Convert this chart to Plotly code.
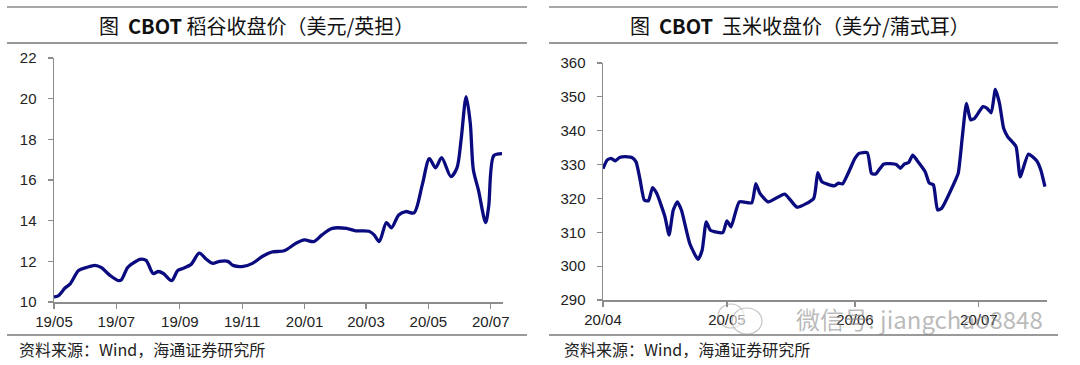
import plotly.graph_objects as go

# ---------------- data ----------------
rice_dates = [
    "2019-05-01", "2019-05-05", "2019-05-12", "2019-05-17", "2019-05-25", "2019-06-02",
    "2019-06-10", "2019-06-16", "2019-06-25", "2019-07-03", "2019-07-06", "2019-07-12",
    "2019-07-17", "2019-07-24", "2019-07-30", "2019-08-06", "2019-08-11", "2019-08-16",
    "2019-08-24", "2019-08-30", "2019-09-04", "2019-09-12", "2019-09-20", "2019-09-27",
    "2019-10-03", "2019-10-10", "2019-10-18", "2019-10-23", "2019-11-02", "2019-11-11",
    "2019-11-21", "2019-11-30", "2019-12-12", "2019-12-24", "2020-01-01", "2020-01-10",
    "2020-01-18", "2020-01-28", "2020-02-11", "2020-02-20", "2020-03-04", "2020-03-09",
    "2020-03-14", "2020-03-21", "2020-03-26", "2020-04-02", "2020-04-09", "2020-04-17",
    "2020-04-25", "2020-05-02", "2020-05-08", "2020-05-14", "2020-05-23", "2020-05-29",
    "2020-06-02", "2020-06-07", "2020-06-11", "2020-06-14", "2020-06-19", "2020-06-26",
    "2020-06-29", "2020-07-04", "2020-07-12",
]
rice_values = [
    10.25, 10.3, 10.7, 10.9, 11.55, 11.7,
    11.8, 11.7, 11.3, 11.05, 11.1, 11.7,
    11.9, 12.1, 12.05, 11.4, 11.5, 11.4,
    11.05, 11.55, 11.65, 11.85, 12.4, 12.1,
    11.9, 12.0, 12.0, 11.8, 11.75, 11.9,
    12.25, 12.46, 12.52, 12.9, 13.05, 12.97,
    13.3, 13.62, 13.62, 13.5, 13.48, 13.3,
    12.97, 13.9, 13.65, 14.28, 14.45, 14.38,
    15.75, 17.05, 16.6, 17.1, 16.17, 16.6,
    17.97, 20.1, 18.8, 16.5, 15.5, 13.9,
    14.7, 17.2, 17.3,
]

corn_dates = [
    "2020-04-01", "2020-04-02", "2020-04-03", "2020-04-04", "2020-04-05", "2020-04-07",
    "2020-04-08", "2020-04-09", "2020-04-10", "2020-04-11", "2020-04-12", "2020-04-13",
    "2020-04-14", "2020-04-16", "2020-04-17", "2020-04-18", "2020-04-19", "2020-04-20",
    "2020-04-22", "2020-04-24", "2020-04-25", "2020-04-26", "2020-04-27", "2020-04-30",
    "2020-05-01", "2020-05-02", "2020-05-04", "2020-05-07", "2020-05-08", "2020-05-09",
    "2020-05-11", "2020-05-15", "2020-05-18", "2020-05-22", "2020-05-23", "2020-05-24",
    "2020-05-27", "2020-05-28", "2020-05-29", "2020-06-01", "2020-06-02", "2020-06-04",
    "2020-06-05", "2020-06-06", "2020-06-08", "2020-06-11", "2020-06-12", "2020-06-13",
    "2020-06-14", "2020-06-15", "2020-06-16", "2020-06-18", "2020-06-19", "2020-06-20",
    "2020-06-21", "2020-06-22", "2020-06-25", "2020-06-26", "2020-06-27", "2020-06-28",
    "2020-06-29", "2020-06-30", "2020-07-02", "2020-07-03", "2020-07-04", "2020-07-05",
    "2020-07-06", "2020-07-07", "2020-07-08", "2020-07-10", "2020-07-11", "2020-07-13",
    "2020-07-15", "2020-07-16", "2020-07-17",
]
corn_values = [
    328.8, 331.3, 331.8, 331.1, 332.1, 332.3,
    332.1, 330.8, 325.4, 319.5, 319.3, 323.2,
    321.5, 314.6, 309.2, 316.5, 319.0, 316.5,
    306.7, 302.0, 304.7, 313.1, 310.6, 309.9,
    313.4, 311.6, 319.0, 318.7, 324.4, 321.5,
    319.0, 321.3, 317.4, 320.0, 327.6, 324.9,
    323.7, 324.5, 324.3, 331.8, 333.3, 333.5,
    327.4, 327.2, 330.2, 330.0, 328.9, 330.2,
    330.6, 332.8, 331.3, 327.9, 324.5, 324.0,
    316.6, 317.1, 324.5, 327.4, 338.2, 348.1,
    343.2, 343.7, 347.1, 346.6, 345.3, 352.2,
    348.1, 340.7, 338.2, 335.3, 326.4, 333.1,
    331.1, 328.4, 323.5,
]

rice_ticks = ["2019-05-01", "2019-07-01", "2019-09-01", "2019-11-01",
              "2020-01-01", "2020-03-01", "2020-05-01", "2020-07-01"]
rice_ticktext = ["19/05", "19/07", "19/09", "19/11", "20/01", "20/03", "20/05", "20/07"]
corn_ticks = ["2020-04-01", "2020-05-01", "2020-06-01", "2020-07-01"]
corn_ticktext = ["20/04", "20/05", "20/06", "20/07"]

title_left = "图  <b>CBOT</b> 稻谷收盘价（美元/英担）"
title_right = "图  <b>CBOT</b>  玉米收盘价（美分/蒲式耳）"
source_text = "资料来源：Wind，海通证券研究所"
watermark = "微信号: jiangchao8848"

# ---------------- figure ----------------
W, H = 1080, 365
LINE = "#0B0B80"
AXIS = "#8C8C8C"
FONT = "Liberation Sans, Arial, sans-serif"
CJK = "Noto Sans CJK SC, sans-serif"

def px(x):
    return x / W

def py(y):
    return 1 - y / H

fig = go.Figure()
fig.add_trace(go.Scatter(x=rice_dates, y=rice_values, mode="lines",
                         line=dict(color=LINE, width=3.3, shape="spline", smoothing=0.8),
                         xaxis="x", yaxis="y", showlegend=False, hoverinfo="skip"))
fig.add_trace(go.Scatter(x=corn_dates, y=corn_values, mode="lines",
                         line=dict(color=LINE, width=3.3, shape="spline", smoothing=0.5),
                         xaxis="x2", yaxis="y2", showlegend=False, hoverinfo="skip"))

axis_common = dict(showgrid=False, zeroline=False, showline=True, linecolor=AXIS,
                   linewidth=1.5, ticks="outside", tickcolor=AXIS, ticklen=5,
                   tickwidth=1.2, automargin=False,
                   tickfont=dict(family=FONT, size=15, color="#222"))

fig.update_layout(
    template="none",
    width=W, height=H, margin=dict(l=0, r=0, t=0, b=0, pad=0),
    paper_bgcolor="white", plot_bgcolor="white",
    xaxis=dict(domain=[px(54), px(503)], anchor="y", type="date",
               range=["2019-05-01", "2020-07-13"],
               tickvals=rice_ticks, ticktext=rice_ticktext, **axis_common),
    yaxis=dict(domain=[py(302), py(58)], anchor="x", range=[10, 22],
               tickvals=[10, 12, 14, 16, 18, 20, 22], ticklabelstandoff=8, **axis_common),
    xaxis2=dict(domain=[px(603), px(1047)], anchor="y2", type="date",
                range=["2020-04-01", "2020-07-17 12:00"],
                tickvals=corn_ticks, ticktext=corn_ticktext, **axis_common),
    yaxis2=dict(domain=[py(300), py(63)], anchor="x2", range=[290, 360],
                tickvals=[290, 300, 310, 320, 330, 340, 350, 360], ticklabelstandoff=8,
                **axis_common),
)

shapes = []
# title box lines and source lines
for (x0, x1) in [(7, 527), (549, 1058)]:
    shapes.append(dict(type="line", xref="paper", yref="paper", x0=px(x0), x1=px(x1),
                       y0=py(7), y1=py(7), line=dict(color="#8a8a8a", width=1.5)))
    shapes.append(dict(type="line", xref="paper", yref="paper", x0=px(x0), x1=px(x1),
                       y0=py(43), y1=py(43), line=dict(color="#333333", width=1.2)))
    shapes.append(dict(type="line", xref="paper", yref="paper", x0=px(x0), x1=px(x1),
                       y0=py(335), y1=py(335), line=dict(color="#9a9a9a", width=2)))
# watermark icon (two speech bubbles)
shapes.append(dict(type="circle", xref="paper", yref="paper", x0=px(718), x1=px(744),
                   y0=py(328), y1=py(304), line=dict(color="rgba(150,150,150,0.55)", width=1.2)))
shapes.append(dict(type="circle", xref="paper", yref="paper", x0=px(732), x1=px(762),
                   y0=py(334), y1=py(308), line=dict(color="rgba(150,150,150,0.55)", width=1.2),
                   fillcolor="rgba(255,255,255,0.6)"))
fig.update_layout(shapes=shapes)

annotations = [
    dict(text=title_left, x=px(256), y=py(25), xref="paper", yref="paper",
         showarrow=False, font=dict(family=CJK, size=20, color="#111"),
         xanchor="center", yanchor="middle"),
    dict(text=title_right, x=px(800), y=py(25), xref="paper", yref="paper",
         showarrow=False, font=dict(family=CJK, size=20, color="#111"),
         xanchor="center", yanchor="middle"),
    dict(text=source_text, x=px(17), y=py(349), xref="paper", yref="paper",
         showarrow=False, font=dict(family=CJK, size=16, color="#222"),
         xanchor="left", yanchor="middle"),
    dict(text=source_text, x=px(562), y=py(349), xref="paper", yref="paper",
         showarrow=False, font=dict(family=CJK, size=16, color="#222"),
         xanchor="left", yanchor="middle"),
    dict(text=watermark, x=px(1045), y=py(318), xref="paper", yref="paper",
         showarrow=False, font=dict(family=CJK, size=24, color="rgba(140,140,140,0.6)"),
         xanchor="right", yanchor="middle"),
]
fig.update_layout(annotations=annotations)

fig.write_html("out.html", config={"displayModeBar": False, "staticPlot": True},
               post_script="document.body.style.margin='0px';document.body.style.padding='0px';")
